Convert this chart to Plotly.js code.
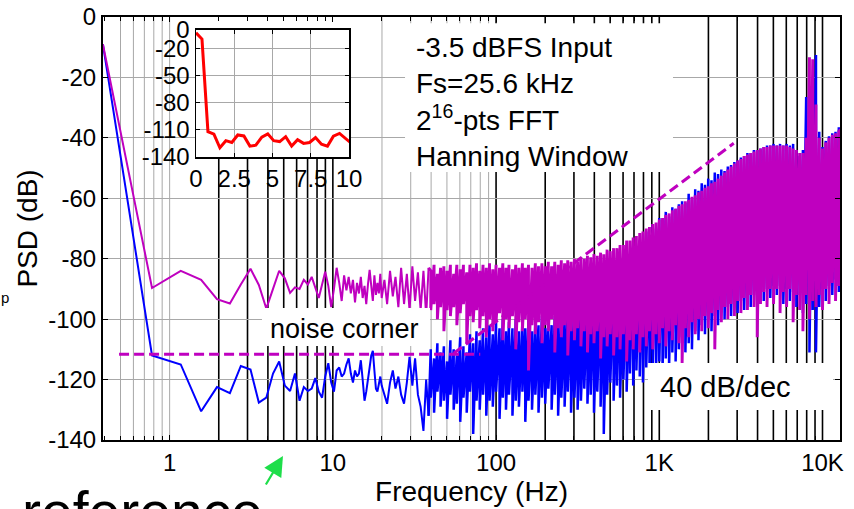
<!DOCTYPE html>
<html><head><meta charset="utf-8">
<script src="https://cdn.plot.ly/plotly-3.0.1.min.js"></script>
<style>html,body{margin:0;padding:0;background:#fff}#chart{width:854px;height:509px}</style>
</head><body><div id="chart"></div>
<script>
// ---- low-frequency part (individual FFT bins, drawn as plain lines) ----
const lineHz = [0.39,0.78,1.17,1.56,1.95,2.34,2.73,3.13,3.52,3.91,4.30,4.69,5.08,5.47,5.86,6.25,6.64,7.03,7.42,7.81,8.20,8.59,8.98,9.38,9.77,
10.16,10.55,10.94,11.33,11.72,12.11,12.50,12.89,13.28,13.67,14.06,14.45,14.84,15.23,15.63,16.02,16.41,16.80,17.19,17.58,17.97,18.36,18.75,19.14,19.53,19.92,
20.7,21.5,22.4,23.3,24.2,25.2,26.2,27.3,28.4,29.5,30.7,31.9,33.2,34.5,35.9,37.3,38.6];
const blueLineDb = [-9,-112,-115,-130.5,-122.5,-124.5,-115.5,-116.7,-127.6,-126,-118,-114,-122,-123.8,-118,-127,-122.5,-123.8,-123,-119.5,-124,-126,-119,-114.6,-121,
-124,-117,-116,-119,-118,-115,-113,-118,-121,-117,-119,-118,-113.6,-120,-127,-124,-119,-116,-112,-110.5,-117,-123,-124,-121,-119,-122,
-125,-128,-121,-117,-123,-119,-125,-128,-121,-112.5,-122,-113,-125,-129,-137,-120,-132];
const magentaLineDb = [-9,-89.7,-84,-87,-93.4,-94.8,-88.5,-83.3,-88.7,-96.5,-90,-84,-86.5,-91.3,-89.5,-90,-87,-88.5,-86,-89.8,-93,-88.5,-84.3,-89,-96,
-90,-83,-88,-94,-85.5,-90.5,-86,-91.5,-87,-94.5,-88,-91.5,-86,-93,-89,-95,-88.5,-83.7,-89,-94,-85.5,-92,-88,-91.5,-85,-93,
-87,-95,-84,-92.5,-86,-96,-83,-95,-85,-97,-82.5,-94,-84.5,-97,-84,-99,-83];

// ---- dense part: upper / lower excursion of each trace at each frequency ----
const bandHz = [39.8,41.7,43.7,45.7,47.9,50.1,52.5,55.0,57.5,60.3,63.1,66.1,69.2,72.4,75.9,79.4,83.2,87.1,91.2,95.5,
100,105,110,115,120,126,132,138,145,151,158,166,174,182,191,200,209,219,229,240,
251,263,275,288,302,316,331,347,363,380,398,417,437,457,479,501,525,550,575,603,
631,661,692,724,759,794,832,871,912,955,1000,1047,1096,1148,1202,1259,1318,1380,1445,1514,
1585,1660,1738,1820,1905,1995,2089,2188,2291,2399,2512,2630,2754,2884,3020,3162,3311,3467,3631,3802,
3981,4169,4365,4571,4786,5012,5248,5495,5754,6026,6310,6607,6918,7244,7586,7943,8318,8710,9120,9550,
10000,10470,10960,11480,12020,12590,12800];
const magentaHiDb = [-84,-82,-85,-83,-82.5,-84,-82,-85,-82,-83.5,-82,-84.5,-82,-83,-81.5,-84,-82,-83,-81.5,-83.5,
-82,-83,-81.5,-83,-82,-83.5,-82,-83,-81.5,-83,-82,-83,-81.5,-82.5,-81.5,-82.5,-81,-82.5,-81,-82,
-80.5,-81.5,-80.5,-81,-80,-81,-79.5,-80,-79,-79.5,-78.5,-79,-78,-78.5,-77,-77.5,-76.5,-76.5,-75.5,-75.5,
-74,-74,-73,-72.5,-71.5,-71,-70,-69.5,-68.5,-68,-67,-66.5,-65.5,-65,-64,-63.5,-62.5,-62,-61,-60.5,
-59.5,-59,-58,-57.5,-56.5,-56,-55,-54.5,-53.5,-52.5,-51.5,-50.5,-49.5,-48.5,-47.5,-47,-46,-45.5,-45,-44.5,
-44,-43.5,-43,-43,-42.5,-42.5,-42.5,-42.5,-42.5,-42.5,-43,-43.5,-44,-45,-45,-40,-13.3,-14,-29,-40,
-43.5,-41.5,-40,-39,-38.5,-37.5,-37];
const magentaLoDb = [-97,-95,-100,-96,-104,-97,-99,-96,-102,-98,-95,-108,-99,-101,-97,-103,-99,-106,-100,-104,
-101,-98,-107,-100,-103,-99,-110,-101,-104,-100,-117,-102,-105,-101,-108,-102,-104,-100,-111,-103,
-106,-102,-112,-104,-107,-103,-109,-104,-111,-105,-108,-104,-113,-106,-109,-105,-112,-106,-110,-105,
-114,-107,-110,-105,-111,-106,-109,-104,-110,-105,-108,-103,-109,-104,-107,-102,-108,-114.5,-103,-106,
-101,-105,-100,-104,-99,-103,-98,-110,-97,-101,-96,-100,-95,-99,-94,-98,-93,-97,-92,-96,
-106,-95,-91,-96,-90,-95,-90,-98,-91,-96,-90,-101,-92,-97,-104,-92,-100,-94,-96,-92,
-97,-90,-95,-88,-94,-89,-86];
const blueHiDb = [-110,-113,-108,-111,-109,-114,-107,-110,-112,-106,-109,-111,-105,-108,-104,-107,-103,-106,-102,-105,
-101,-103,-100,-104,-101,-103,-100,-104,-101,-103,-100,-104,-101,-102,-99,-103,-100,-102,-99,-101,
-98,-100,-97,-99,-95,-98,-94,-97,-92,-95,-91,-94,-89,-92,-88,-90,-86,-89,-84,-87,
-82,-84,-78,-80,-74,-77,-71,-73,-68.5,-70,-66.5,-67,-64.5,-66,-63,-63.5,-62,-61,-61.5,-58.5,
-60,-57,-57.5,-55,-55.5,-53.5,-54,-51.5,-52,-50.5,-51,-49.5,-49,-48,-47.5,-46.5,-46,-45,-45,-44,
-44,-43.5,-43,-42.5,-42.5,-42,-42.5,-42,-42.5,-42,-42.5,-42,-44,-46,-44,-26.5,-30,-29,-12.6,-38,
-43,-41,-39.5,-38.5,-38,-36.5,-36.5];
const blueLoDb = [-126,-131,-124,-129,-127,-133,-125,-130,-128,-134,-126,-131,-124,-138,-127,-130,-125,-132,-127,-129,
-124,-133,-126,-130,-125,-132,-127,-129,-124,-134,-127,-130,-125,-131,-126,-128,-123,-130,-125,-132,
-126,-129,-124,-131,-126,-130,-127,-123,-128,-125,-131,-124,-129,-138,-125,-121,-127,-122,-126,-120,
-124,-118,-122,-117,-119,-121,-116,-119,-115,-118,-114,-117,-113,-116,-111,-114,-110,-106,-111,-108,
-110,-104,-107,-102,-105,-100,-104,-99,-102,-97,-100,-96,-99,-95,-98,-94,-97,-93,-96,-92,
-95,-91,-94,-90,-93,-89,-92,-89,-95,-90,-94,-91,-96,-92,-98,-95,-111,-97,-111,-96,
-90,-94,-89,-92,-87,-91,-86];

// ---- inset (linear frequency axis, red) ----
const insetHz = [0,0.39,0.78,1.17,1.56,1.95,2.34,2.73,3.13,3.52,3.91,4.30,4.69,5.08,5.47,5.86,6.25,6.64,7.03,7.42,7.81,8.20,8.59,8.98,9.38,9.77,10.16];
const insetDb = [-3,-10,-112,-114.7,-129.8,-122,-124,-115.7,-116.8,-128,-127,-118,-114.5,-122,-123,-117.6,-128,-121,-125,-124,-118.5,-126,-128,-117,-114,-119.7,-125];

// ---- guide lines ----
const noiseFloorHz = [0.49, 80];
const noiseFloorDb = [-111.6, -111.6];
const slopeHz = [55.1, 2860];
const slopeDb = [-111.3, -41.8];

// ---- ticks / grid ----
const xTickVals = [1,10,100,1000,10000];
const xTickText = ['1','10','100','1K','10K'];
const yTickVals = [0,-20,-40,-60,-80,-100,-120,-140];
const yTickText = ['0','-20','-40','-60','-80','-100','-120','-140'];
const insetXTicks = [0,2.5,5,7.5,10];
const insetXText = ['0','2.5','5','7.5','10'];
const insetYTicks = [0,-20,-50,-80,-110,-140];
const insetYText = ['0','-20','-50','-80','-110','-140'];
const minorHz = [0.4,0.5,0.6,0.7,0.8,0.9,2,3,4,5,6,7,8,9,20,30,40,50,60,70,80,90,200,300,400,500,600,700,800,900,2000,3000,4000,5000,6000,7000,8000,9000];
const grayGridHz = [0.5,0.6,0.7,0.8,0.9,1,20,30,40,50,60,70,80,90];
const darkGridLowHz = [2,3,4,5,6,7,8,9,10];
const darkGridHighHz = [100,200,300,400,500,600,700,800,900,1000,2000,3000,4000,5000,6000,7000,8000,9000,10000];

// line part, and dense part (starting from the last line point so the trace stays continuous)
function lowPart(lineDb) { return {x: lineHz.slice(), y: lineDb.slice()}; }
function densePart(lineDb, hiDb, loDb) {
  const n = lineHz.length - 1;
  const x = [lineHz[n]], y = [lineDb[n]];
  bandHz.forEach((f, i) => { x.push(f, f); y.push(hiDb[i], loDb[i]); });
  return {x, y};
}
const blueLow = lowPart(blueLineDb), blueDense = densePart(blueLineDb, blueHiDb, blueLoDb);
const magLow = lowPart(magentaLineDb), magDense = densePart(magentaLineDb, magentaHiDb, magentaLoDb);

const BLUE = '#0000FF', MAG = '#BF00BF';
const traces = [
  {type:'scatter', mode:'lines', x:blueLow.x, y:blueLow.y, line:{color:BLUE, width:2}, hoverinfo:'skip'},
  {type:'scatter', mode:'lines', x:blueDense.x, y:blueDense.y, line:{color:BLUE, width:2.5}, hoverinfo:'skip'},
  {type:'scatter', mode:'lines', x:magLow.x, y:magLow.y, line:{color:MAG, width:2}, hoverinfo:'skip'},
  {type:'scatter', mode:'lines', x:magDense.x, y:magDense.y, line:{color:MAG, width:2.9}, hoverinfo:'skip'},
  {type:'scatter', mode:'lines', x:noiseFloorHz, y:noiseFloorDb, line:{color:MAG, width:3, dash:'10px,5px'}},
  {type:'scatter', mode:'lines', x:slopeHz, y:slopeDb, line:{color:MAG, width:3, dash:'10px,5px'}},
  {type:'scatter', mode:'lines', x:insetHz, y:insetDb, xaxis:'x2', yaxis:'y2', line:{color:'#FF0000', width:3}}
];

const GRID = '#a8a8a8';
const shapes = [];
grayGridHz.forEach(f => shapes.push({type:'line', xref:'x', yref:'y', x0:f, x1:f, y0:-140, y1:0, layer:'below', line:{color:GRID, width:1}}));
darkGridLowHz.forEach(f => shapes.push({type:'line', xref:'x', yref:'y', x0:f, x1:f, y0:-140, y1:-4.3, layer:'below', line:{color:'#000', width:1.6}}));
darkGridHighHz.forEach(f => shapes.push({type:'line', xref:'x', yref:'y', x0:f, x1:f, y0:-140, y1:0, layer:'below', line:{color:'#000', width:1.6}}));
// white label boxes
[[0.4098,0.7734,0.6336,0.985],[0.2157,0.4437,0.2222,0.3121],[0.7395,0.9905,0.0709,0.182]].forEach(b =>
  shapes.push({type:'rect', xref:'paper', yref:'paper', x0:b[0], x1:b[1], y0:b[2], y1:b[3], layer:'above', fillcolor:'#fff', line:{width:0}}));

const FONT = '"Liberation Sans", Arial, sans-serif';
const axisCommon = {showline:true, linecolor:'#000', mirror:'ticks', zeroline:false, ticks:'inside', tickcolor:'#000', tickfont:{size:24, family:FONT, color:'#000'}};

const layout = {
  width:854, height:509,
  margin:{l:103, r:14, t:17, b:69},
  paper_bgcolor:'#fff', plot_bgcolor:'#fff',
  showlegend:false,
  font:{family:FONT, color:'#000', size:24},
  xaxis:Object.assign({}, axisCommon, {
    type:'log', range:[Math.log10(0.390625), Math.log10(12800)],
    tickmode:'array', tickvals:xTickVals, ticktext:xTickText, ticklen:5, tickwidth:1,
    minor:{tickmode:'array', tickvals:minorHz, ticks:'inside', ticklen:4, tickcolor:'#000', showgrid:false},
    showgrid:false, linewidth:2,
    title:{text:'Frequency (Hz)', font:{size:28, family:FONT, color:'#000'}, standoff:4}
  }),
  yaxis:Object.assign({}, axisCommon, {
    range:[-140,0], tickmode:'array', tickvals:yTickVals, ticktext:yTickText, ticklen:5,
    showgrid:true, gridcolor:GRID, gridwidth:1, linewidth:2,
    title:{text:'PSD (dB)', font:{size:28, family:FONT, color:'#000'}, standoff:2}
  }),
  xaxis2:Object.assign({}, axisCommon, {
    domain:[0.1262,0.3338], anchor:'y2', range:[0,10],
    tickmode:'array', tickvals:insetXTicks, ticktext:insetXText, ticklen:4,
    showgrid:true, gridcolor:GRID, linewidth:1.5
  }),
  yaxis2:Object.assign({}, axisCommon, {
    domain:[0.669,0.9693], anchor:'x2', range:[-140,0],
    tickmode:'array', tickvals:insetYTicks, ticktext:insetYText, ticklen:4,
    showgrid:true, gridcolor:GRID, linewidth:1.5
  }),
  shapes:shapes,
  annotations:[
    {xref:'paper', yref:'paper', x:0.422, y:0.97, xanchor:'left', yanchor:'top', align:'left', showarrow:false,
     text:'-3.5 dBFS Input<br>Fs=25.6 kHz<br>2<sup>16</sup>-pts FFT<br>Hanning Window', font:{size:28}},
    {xref:'paper', yref:'paper', x:0.328, y:0.262, xanchor:'center', yanchor:'middle', showarrow:false,
     text:'noise corner', font:{size:27}},
    {xref:'paper', yref:'paper', x:0.844, y:0.125, xanchor:'center', yanchor:'middle', showarrow:false,
     text:'40 dB/dec', font:{size:29}},
    {xref:'paper', yref:'paper', x:-0.1126, y:-0.0898, xanchor:'left', yanchor:'top', showarrow:false,
     text:'reference', font:{size:57}},
    {xref:'paper', yref:'paper', x:-0.133, y:0.3357, xanchor:'center', yanchor:'middle', showarrow:false,
     text:'p', font:{size:15}},
    {xref:'paper', yref:'paper', x:0.2442, y:-0.0378, ax:-18, ay:30, showarrow:true, text:'',
     arrowhead:2, arrowsize:1.8, arrowwidth:2.2, arrowcolor:'#1ede4a', standoff:0}
  ]
};

Plotly.newPlot('chart', traces, layout, {staticPlot:true, displayModeBar:false});
</script>
</body></html>
